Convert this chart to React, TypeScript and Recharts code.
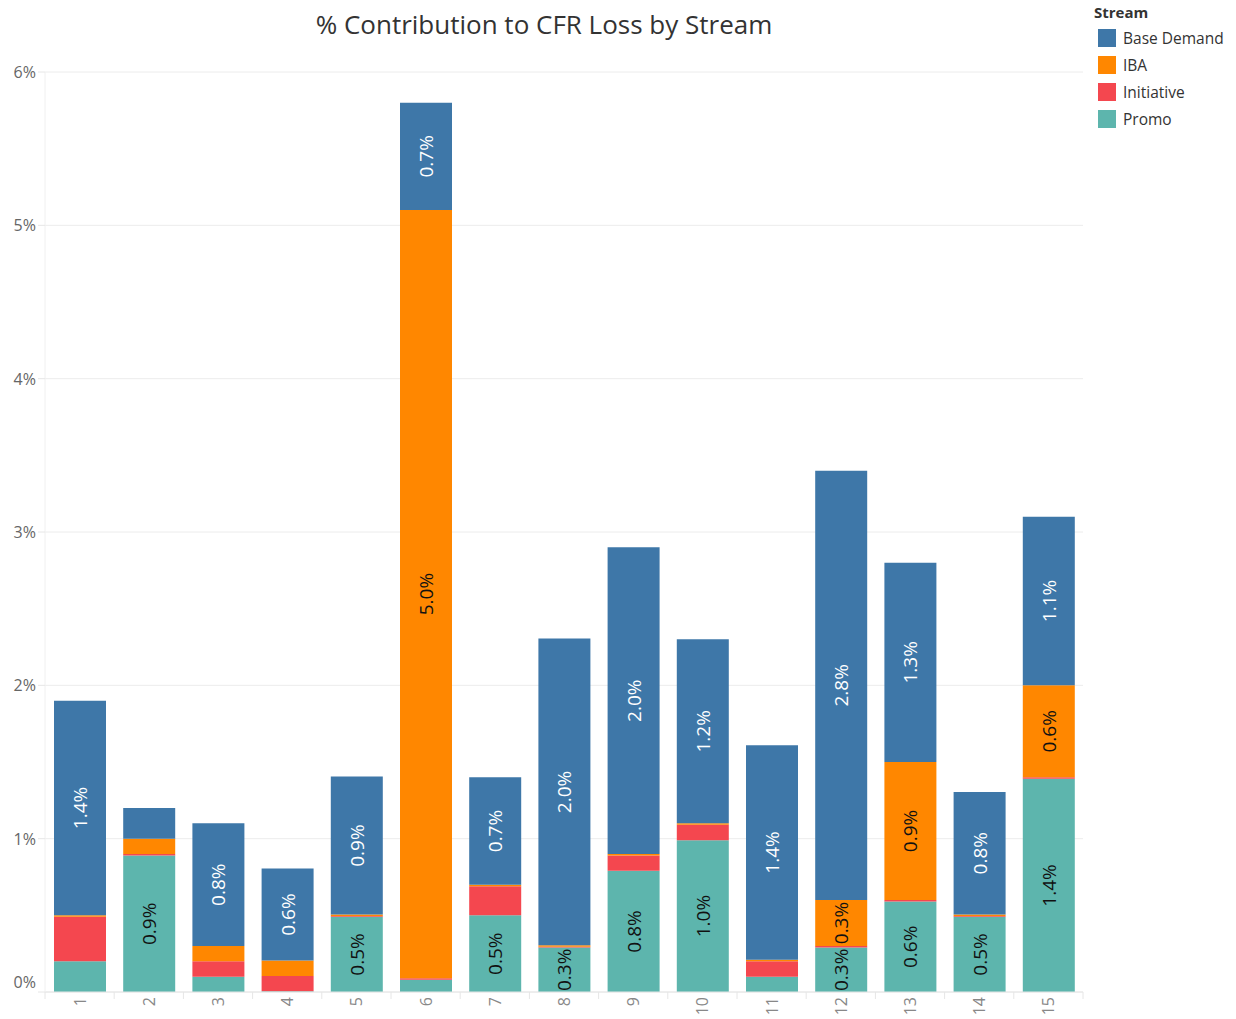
import React from 'react';
import { BarChart, Bar, XAxis, YAxis, CartesianGrid, LabelList } from 'recharts';

const categories = ['1', '2', '3', '4', '5', '6', '7', '8', '9', '10', '11', '12', '13', '14', '15'];
const promo = [0.2, 0.89, 0.1, 0.005, 0.49, 0.08, 0.5, 0.29, 0.79, 0.99, 0.1, 0.29, 0.59, 0.49, 1.39];
const initiative = [0.29, 0.01, 0.1, 0.1, 0.005, 0.01, 0.19, 0.005, 0.1, 0.1, 0.1, 0.01, 0.01, 0.005, 0.01];
const iba = [0.01, 0.1, 0.1, 0.1, 0.01, 5.01, 0.01, 0.01, 0.01, 0.01, 0.01, 0.3, 0.9, 0.01, 0.6];
const baseDemand = [1.4, 0.2, 0.8, 0.6, 0.9, 0.7, 0.7, 2.0, 2.0, 1.2, 1.4, 2.8, 1.3, 0.8, 1.1];
const yTicks = [0, 1, 2, 3, 4, 5, 6];

const COLORS = {
  'Base Demand': '#3e77a8',
  IBA: '#ff8700',
  Initiative: '#f4474f',
  Promo: '#5db5ad',
};

const FONT = '"Open Sans", "DejaVu Sans", sans-serif';

const data = categories.map((c, i) => ({
  category: c,
  Promo: promo[i],
  Initiative: initiative[i],
  IBA: iba[i],
  'Base Demand': baseDemand[i],
}));

const CHART_W = 1236;
const CHART_H = 1019;
const MARGIN = { top: 72, right: 153, bottom: 0, left: 0 };
const Y_W = 45;
const HALF_BAND = (CHART_W - MARGIN.left - MARGIN.right - Y_W) / categories.length / 2;

const makeLabel = (color: string) => (props: any) => {
  const { x, y, width, height, value } = props;
  if (value == null || value < 0.25) return null;
  const cx = Number(x) + Number(width) / 2;
  const cy = Number(y) + Number(height) / 2;
  return (
    <text
      x={cx}
      y={cy}
      transform={`rotate(-90 ${cx} ${cy})`}
      textAnchor="middle"
      dominantBaseline="central"
      fill={color}
      fontSize={19}
      fontFamily={FONT}
    >
      {Number(value).toFixed(1)}%
    </text>
  );
};

const YTick = (props: any) => {
  const { x, y, payload } = props;
  const dy = payload.value === 0 ? -10 : 0;
  return (
    <text x={x} y={y + dy} textAnchor="end" dominantBaseline="central" fill="#666" fontSize={16} fontFamily={FONT}>
      {payload.value}%
    </text>
  );
};

const XTick = (props: any) => {
  const { x, y, payload, index } = props;
  const axisY = y - 5;
  const half = payload && payload.offset ? payload.offset : HALF_BAND;
  return (
    <g>
      <line x1={x - half} x2={x - half} y1={axisY} y2={axisY + 7} stroke="#e6e6e6" />
      {index === categories.length - 1 && (
        <line x1={x + half} x2={x + half} y1={axisY} y2={axisY + 7} stroke="#e6e6e6" />
      )}
      <text
        x={x}
        y={y}
        transform={`rotate(-90 ${x} ${y})`}
        textAnchor="end"
        dominantBaseline="central"
        fill="#888"
        fontSize={16}
        fontFamily={FONT}
      >
        {payload.value}
      </text>
    </g>
  );
};

const legendItems = ['Base Demand', 'IBA', 'Initiative', 'Promo'] as const;

export default function App() {
  return (
    <div style={{ position: 'absolute', left: 0, top: 0, width: CHART_W, height: CHART_H, background: '#fff', fontFamily: FONT }}>
      <div
        style={{
          position: 'absolute',
          left: 0,
          width: 1088,
          top: 7,
          textAlign: 'center',
          fontSize: 26,
          color: '#333',
          lineHeight: '34px',
        }}
      >
        % Contribution to CFR Loss by Stream
      </div>
      <div style={{ position: 'absolute', left: 1094, top: 1, color: '#333' }}>
        <div style={{ fontSize: 15, fontWeight: 700, lineHeight: '23px' }}>Stream</div>
        {legendItems.map((k) => (
          <div key={k} style={{ display: 'flex', alignItems: 'center', height: 27, marginLeft: 4 }}>
            <div style={{ width: 18, height: 18, background: COLORS[k], marginRight: 7 }} />
            <div style={{ fontSize: 15.5 }}>{k}</div>
          </div>
        ))}
      </div>
      <div style={{ position: 'absolute', left: 0, top: 0 }}>
        <BarChart width={CHART_W} height={CHART_H} data={data} margin={MARGIN}>
          <CartesianGrid vertical={false} stroke="#ececec" />
          <XAxis
            dataKey="category"
            height={27}
            tickSize={0}
            tickMargin={5}
            tick={<XTick />}
            interval={0}
            axisLine={{ stroke: '#e6e6e6' }}
          />
          <YAxis
            domain={[0, 6]}
            ticks={yTicks}
            width={Y_W}
            tickSize={7}
            tickLine={{ stroke: '#e6e6e6' }}
            axisLine={{ stroke: '#f0f0f0' }}
            tick={<YTick />}
            interval={0}
          />
          <Bar dataKey="Promo" stackId="s" fill={COLORS.Promo} barSize={52} isAnimationActive={false}>
            <LabelList dataKey="Promo" content={makeLabel('#111')} />
          </Bar>
          <Bar dataKey="Initiative" stackId="s" fill={COLORS.Initiative} barSize={52} isAnimationActive={false} />
          <Bar dataKey="IBA" stackId="s" fill={COLORS.IBA} barSize={52} isAnimationActive={false}>
            <LabelList dataKey="IBA" content={makeLabel('#111')} />
          </Bar>
          <Bar dataKey="Base Demand" stackId="s" fill={COLORS['Base Demand']} barSize={52} isAnimationActive={false}>
            <LabelList dataKey="Base Demand" content={makeLabel('#fff')} />
          </Bar>
        </BarChart>
      </div>
    </div>
  );
}
